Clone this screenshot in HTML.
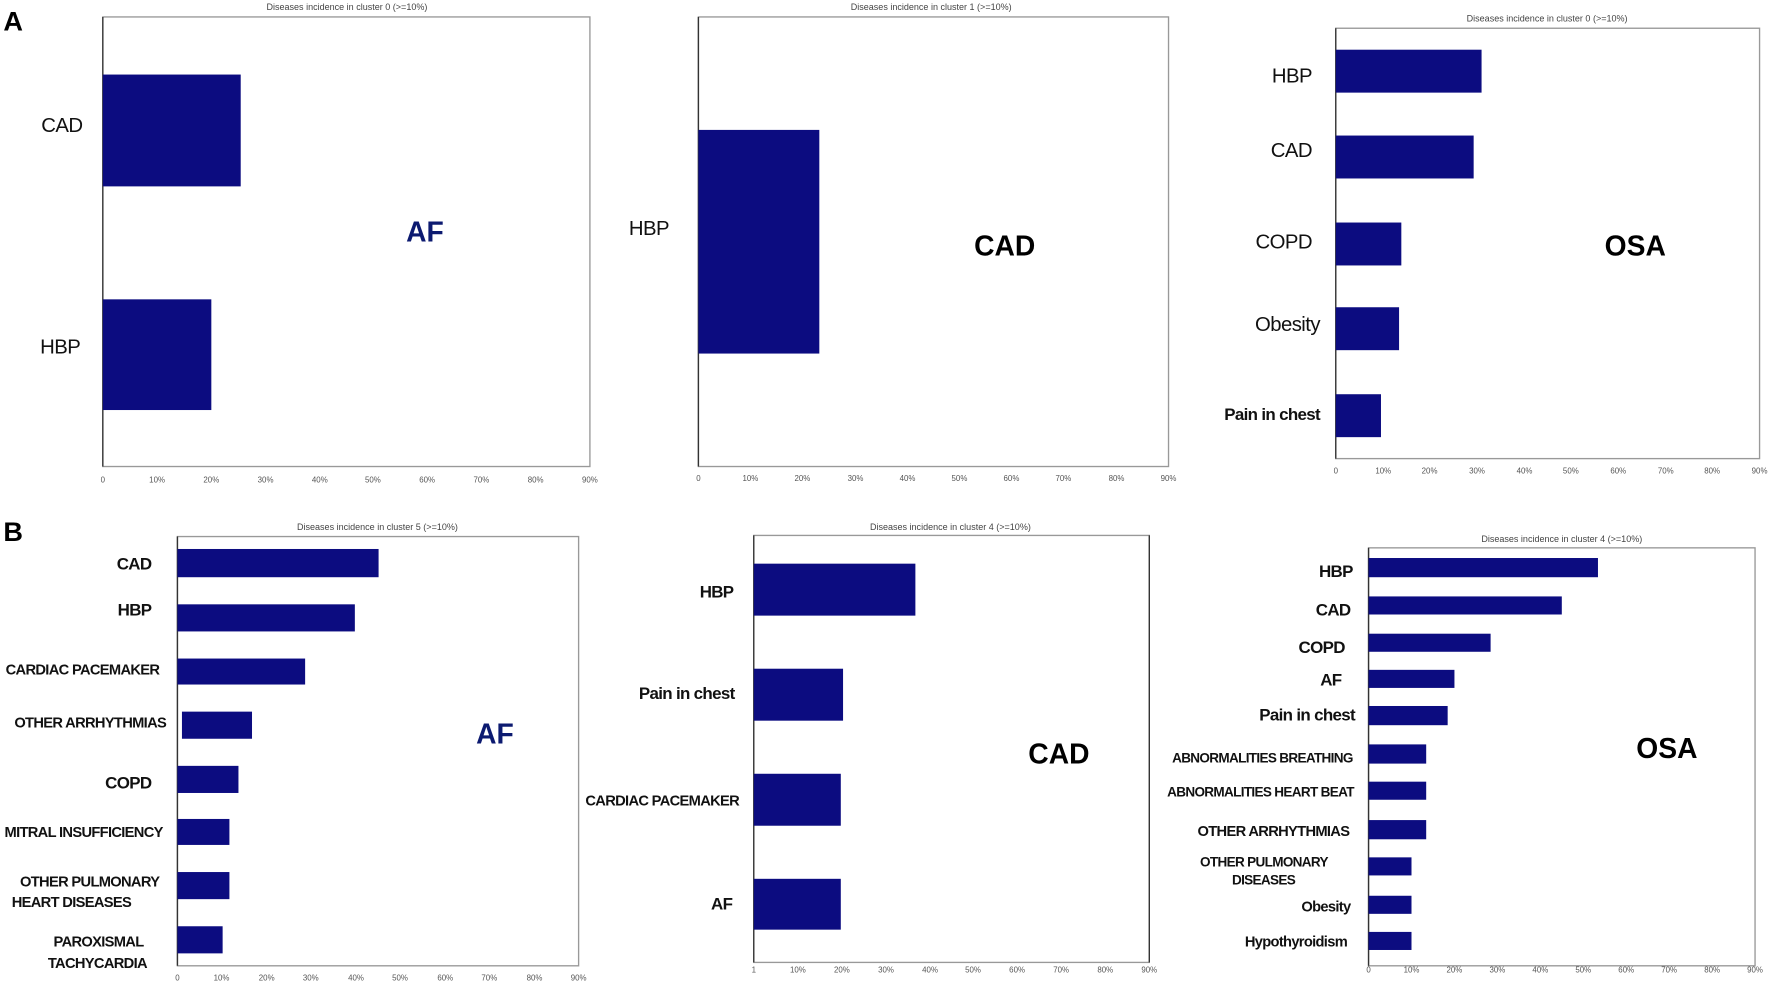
<!DOCTYPE html>
<html><head><meta charset="utf-8"><style>
html,body{margin:0;padding:0;background:#fff}
svg{display:block}
text{font-family:"Liberation Sans",sans-serif}
.t{font-size:8px;fill:#444;text-anchor:middle}
.k{font-size:7px;fill:#555;text-anchor:middle}
.l{font-size:18px;fill:#111;text-anchor:end;font-weight:bold;letter-spacing:-0.5px}
.s{font-size:13px;fill:#111;text-anchor:end;font-weight:bold;letter-spacing:-0.6px}
.b{fill:#0c0c80}
.f{fill:none;stroke:#999;stroke-width:1.2}
.ax{stroke:#333;stroke-width:1.2}
.big{font-size:25px;font-weight:bold;text-anchor:middle}
</style></head><body>
<svg width="1772" height="985" viewBox="0 0 1568 872" preserveAspectRatio="none" xmlns="http://www.w3.org/2000/svg">
<text x="3" y="27" font-size="24" font-weight="bold" fill="#000">A</text>
<text x="3" y="479" font-size="24" font-weight="bold" fill="#000">B</text>

<!-- A1 -->
<text class="t" x="307" y="9">Diseases incidence in cluster 0 (&gt;=10%)</text>
<rect class="f" x="91" y="15" width="431" height="398"/>
<line class="ax" x1="91" y1="15" x2="91" y2="413"/>
<rect class="b" x="91" y="66" width="122" height="99"/>
<rect class="b" x="91" y="265" width="96" height="98"/>
<text class="l" x="73" y="117" style="font-weight:normal">CAD</text>
<text class="l" x="71" y="313" style="font-weight:normal">HBP</text>
<text class="big" x="376" y="214" fill="#0c1a70">AF</text>
<g class="k"><text x="91" y="427">0</text><text x="139" y="427">10%</text><text x="187" y="427">20%</text><text x="235" y="427">30%</text><text x="283" y="427">40%</text><text x="330" y="427">50%</text><text x="378" y="427">60%</text><text x="426" y="427">70%</text><text x="474" y="427">80%</text><text x="522" y="427">90%</text></g>

<!-- A2 -->
<text class="t" x="824" y="9">Diseases incidence in cluster 1 (&gt;=10%)</text>
<rect class="f" x="618" y="15" width="416" height="398"/>
<line class="ax" x1="618" y1="15" x2="618" y2="413"/>
<rect class="b" x="618" y="115" width="107" height="198"/>
<text class="l" x="592" y="208" style="font-weight:normal">HBP</text>
<text class="big" x="889" y="226" fill="#000">CAD</text>
<g class="k"><text x="618" y="426">0</text><text x="664" y="426">10%</text><text x="710" y="426">20%</text><text x="757" y="426">30%</text><text x="803" y="426">40%</text><text x="849" y="426">50%</text><text x="895" y="426">60%</text><text x="941" y="426">70%</text><text x="988" y="426">80%</text><text x="1034" y="426">90%</text></g>

<!-- A3 -->
<text class="t" x="1369" y="19">Diseases incidence in cluster 0 (&gt;=10%)</text>
<rect class="f" x="1182" y="25" width="375" height="381"/>
<line class="ax" x1="1182" y1="25" x2="1182" y2="406"/>
<rect class="b" x="1182" y="44" width="129" height="38"/>
<rect class="b" x="1182" y="120" width="122" height="38"/>
<rect class="b" x="1182" y="197" width="58" height="38"/>
<rect class="b" x="1182" y="272" width="56" height="38"/>
<rect class="b" x="1182" y="349" width="40" height="38"/>
<text class="l" x="1161" y="73" style="font-weight:normal">HBP</text>
<text class="l" x="1161" y="139" style="font-weight:normal">CAD</text>
<text class="l" x="1161" y="220" style="font-weight:normal">COPD</text>
<text class="l" x="1168" y="293" style="font-weight:normal">Obesity</text>
<text class="s" x="1168" y="372" style="font-size:15px">Pain in chest</text>
<text class="big" x="1447" y="226" fill="#000">OSA</text>
<g class="k"><text x="1182" y="419">0</text><text x="1224" y="419">10%</text><text x="1265" y="419">20%</text><text x="1307" y="419">30%</text><text x="1349" y="419">40%</text><text x="1390" y="419">50%</text><text x="1432" y="419">60%</text><text x="1474" y="419">70%</text><text x="1515" y="419">80%</text><text x="1557" y="419">90%</text></g>

<!-- B1 -->
<text class="t" x="334" y="469">Diseases incidence in cluster 5 (&gt;=10%)</text>
<rect class="f" x="157" y="475" width="355" height="380"/>
<line class="ax" x1="157" y1="475" x2="157" y2="855"/>
<rect class="b" x="157" y="486" width="178" height="25"/>
<rect class="b" x="157" y="535" width="157" height="24"/>
<rect class="b" x="157" y="583" width="113" height="23"/>
<rect class="b" x="161" y="630" width="62" height="24"/>
<rect class="b" x="157" y="678" width="54" height="24"/>
<rect class="b" x="157" y="725" width="46" height="23"/>
<rect class="b" x="157" y="772" width="46" height="24"/>
<rect class="b" x="157" y="820" width="40" height="24"/>
<text class="s" x="134" y="504" style="font-size:15px">CAD</text>
<text class="s" x="134" y="545" style="font-size:15px">HBP</text>
<text class="s" x="141" y="597">CARDIAC PACEMAKER</text>
<text class="s" x="147" y="644">OTHER ARRHYTHMIAS</text>
<text class="s" x="134" y="698" style="font-size:15px">COPD</text>
<text class="s" x="144" y="741">MITRAL INSUFFICIENCY</text>
<text class="s" x="141" y="785">OTHER PULMONARY</text>
<text class="s" x="116" y="803">HEART DISEASES</text>
<text class="s" x="127" y="838">PAROXISMAL</text>
<text class="s" x="130" y="857">TACHYCARDIA</text>
<text class="big" x="438" y="658" fill="#0c1a70">AF</text>
<g class="k"><text x="157" y="868">0</text><text x="196" y="868">10%</text><text x="236" y="868">20%</text><text x="275" y="868">30%</text><text x="315" y="868">40%</text><text x="354" y="868">50%</text><text x="394" y="868">60%</text><text x="433" y="868">70%</text><text x="473" y="868">80%</text><text x="512" y="868">90%</text></g>

<!-- B2 -->
<text class="t" x="841" y="469">Diseases incidence in cluster 4 (&gt;=10%)</text>
<rect class="f" x="667" y="474" width="350" height="378"/>
<line class="ax" x1="667" y1="474" x2="667" y2="852"/>
<line class="ax" x1="1017" y1="474" x2="1017" y2="852"/>
<rect class="b" x="667" y="499" width="143" height="46"/>
<rect class="b" x="667" y="592" width="79" height="46"/>
<rect class="b" x="667" y="685" width="77" height="46"/>
<rect class="b" x="667" y="778" width="77" height="45"/>
<text class="s" x="649" y="529" style="font-size:15px">HBP</text>
<text class="s" x="650" y="619" style="font-size:15px">Pain in chest</text>
<text class="s" x="654" y="713">CARDIAC PACEMAKER</text>
<text class="s" x="648" y="805" style="font-size:15px">AF</text>
<text class="big" x="937" y="676" fill="#000">CAD</text>
<g class="k"><text x="667" y="861">1</text><text x="706" y="861">10%</text><text x="745" y="861">20%</text><text x="784" y="861">30%</text><text x="823" y="861">40%</text><text x="861" y="861">50%</text><text x="900" y="861">60%</text><text x="939" y="861">70%</text><text x="978" y="861">80%</text><text x="1017" y="861">90%</text></g>

<!-- B3 -->
<text class="t" x="1382" y="480">Diseases incidence in cluster 4 (&gt;=10%)</text>
<rect class="f" x="1211" y="485" width="342" height="370"/>
<line class="ax" x1="1211" y1="485" x2="1211" y2="855"/>
<rect class="b" x="1211" y="494" width="203" height="17"/>
<rect class="b" x="1211" y="528" width="171" height="16"/>
<rect class="b" x="1211" y="561" width="108" height="16"/>
<rect class="b" x="1211" y="593" width="76" height="16"/>
<rect class="b" x="1211" y="625" width="70" height="17"/>
<rect class="b" x="1211" y="659" width="51" height="17"/>
<rect class="b" x="1211" y="692" width="51" height="16"/>
<rect class="b" x="1211" y="726" width="51" height="17"/>
<rect class="b" x="1211" y="759" width="38" height="16"/>
<rect class="b" x="1211" y="793" width="38" height="16"/>
<rect class="b" x="1211" y="825" width="38" height="16"/>
<text class="s" x="1197" y="511" style="font-size:15px">HBP</text>
<text class="s" x="1195" y="545" style="font-size:15px">CAD</text>
<text class="s" x="1190" y="578" style="font-size:15px">COPD</text>
<text class="s" x="1187" y="607" style="font-size:15px">AF</text>
<text class="s" x="1199" y="638" style="font-size:15px">Pain in chest</text>
<text class="s" x="1197" y="675" style="font-size:12px">ABNORMALITIES BREATHING</text>
<text class="s" x="1198" y="705" style="font-size:12px">ABNORMALITIES HEART BEAT</text>
<text class="s" x="1194" y="740">OTHER ARRHYTHMIAS</text>
<text class="s" x="1175" y="767" style="font-size:12px">OTHER PULMONARY</text>
<text class="s" x="1146" y="783" style="font-size:12px">DISEASES</text>
<text class="s" x="1195" y="807">Obesity</text>
<text class="s" x="1192" y="838">Hypothyroidism</text>
<text class="big" x="1475" y="671" fill="#000">OSA</text>
<g class="k"><text x="1211" y="861">0</text><text x="1249" y="861">10%</text><text x="1287" y="861">20%</text><text x="1325" y="861">30%</text><text x="1363" y="861">40%</text><text x="1401" y="861">50%</text><text x="1439" y="861">60%</text><text x="1477" y="861">70%</text><text x="1515" y="861">80%</text><text x="1553" y="861">90%</text></g>
</svg>
</body></html>
